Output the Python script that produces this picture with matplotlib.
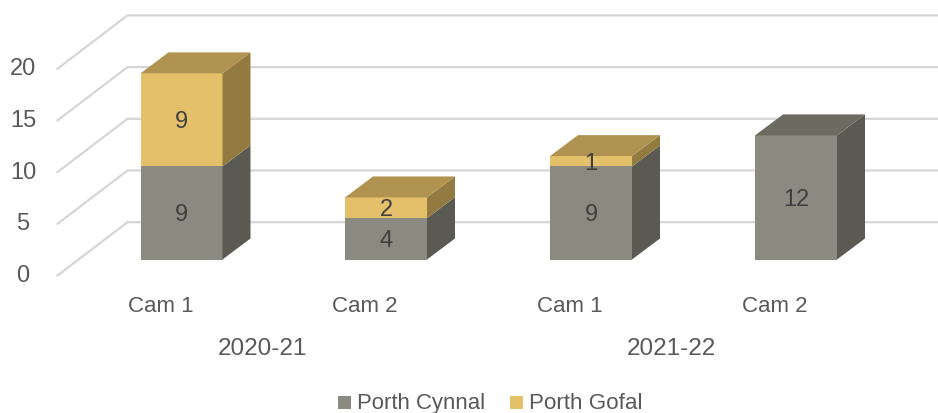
import matplotlib
matplotlib.use('Agg')
import matplotlib.pyplot as plt
from matplotlib.patches import Polygon, Rectangle

categories = ['Cam 1', 'Cam 2', 'Cam 1', 'Cam 2']
years = ['2020-21', '2021-22']
cynnal = [9, 4, 9, 12]
gofal = [9, 2, 1, 0]
yticks = [0, 5, 10, 15, 20]

plt.rcParams['font.family'] = ['Liberation Sans', 'DejaVu Sans']

grey = ('#8a8a80', '#5a5a52', '#6b6b62')
gold = ('#e5c06a', '#937a40', '#b09350')
text_col = '#595959'
label_col = '#404040'

fig = plt.figure(figsize=(9.38, 4.13), dpi=100)
ax = fig.add_axes([0, 0, 1, 1])
ax.set_xlim(0, 938)
ax.set_ylim(413, 0)
ax.axis('off')

y0 = 259.5
unit = 10.34
dx, dy = 28, 21
bar_w = 82
lefts = [140.5, 345, 550, 755]


def yy(v):
    return y0 - v * unit


def box(x, v0, v1, cols, top):
    ax.add_patch(Rectangle((x, yy(v1)), bar_w, yy(v0) - yy(v1), fc=cols[0], ec='none', zorder=3))
    r = x + bar_w
    ax.add_patch(Polygon([(r, yy(v0)), (r + dx, yy(v0) - dy), (r + dx, yy(v1) - dy), (r, yy(v1))],
                         fc=cols[1], ec='none', zorder=3))
    if top:
        ax.add_patch(Polygon([(x, yy(v1)), (r, yy(v1)), (r + dx, yy(v1) - dy), (x + dx, yy(v1) - dy)],
                             fc=cols[2], ec='none', zorder=3))


for t in yticks:
    y = yy(t) + 16
    ax.plot([57.5, 127.5, 938], [y, y - 53.3, y - 53.3], color='#d6d6d6', lw=1.6, zorder=1)
    ax.text(23, y + 0.5, str(t), fontsize=17, color=text_col, ha='center', va='center')

for i, x in enumerate(lefts):
    box(x, 0, cynnal[i], grey, gofal[i] == 0)
    ax.text(x + bar_w / 2, yy(cynnal[i] / 2) + 2.5, str(cynnal[i]), fontsize=17, color=label_col, ha='center', va='center', zorder=5)
    if gofal[i]:
        box(x, cynnal[i], cynnal[i] + gofal[i], gold, True)
        ax.text(x + bar_w / 2, yy(cynnal[i] + gofal[i] / 2) + 2.5, str(gofal[i]), fontsize=17, color=label_col, ha='center', va='center', zorder=5)
    ax.text(x + 20, 307, categories[i], fontsize=16, color=text_col, ha='center', va='center')

ax.text(262.5, 349, years[0], fontsize=17.5, color=text_col, ha='center', va='center')
ax.text(671.5, 349, years[1], fontsize=17.5, color=text_col, ha='center', va='center')

ax.add_patch(Rectangle((338, 396), 13, 13, fc=grey[0], ec='none'))
ax.text(357, 403.5, 'Porth Cynnal', fontsize=15.95, color=text_col, va='center')
ax.add_patch(Rectangle((510, 396), 13, 13, fc=gold[0], ec='none'))
ax.text(529, 403.5, 'Porth Gofal', fontsize=16.1, color=text_col, va='center')

fig.savefig('out.png', dpi=100)
